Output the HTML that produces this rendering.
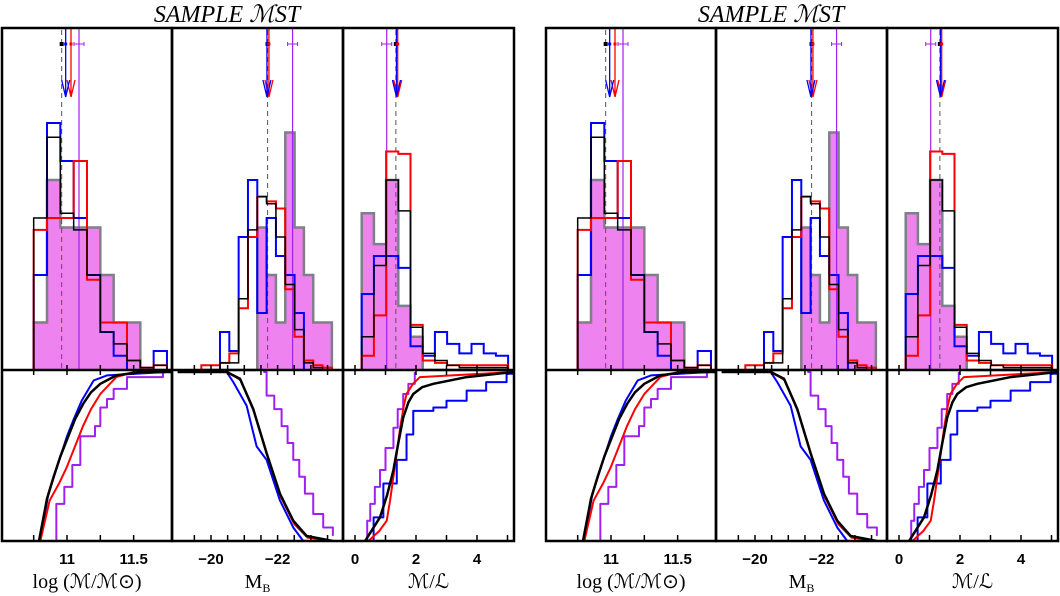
<!DOCTYPE html>
<html><head><meta charset="utf-8"><style>
html,body{margin:0;padding:0;background:#fff;}
svg{display:block;}
text{font-family:"Liberation Sans",sans-serif;}
</style></head><body>
<svg id="fig" width="1060" height="596" viewBox="0 0 1060 596" xmlns="http://www.w3.org/2000/svg"></svg>
<script>
// ---------- data ----------
const massBinStart = 10.75, massBinWidth = 0.1;
const mbBinStart = -19.71, mbBinWidth = -0.28;
const mlBinStart = 0.22, mlBinWidth = 0.4;
const massMagenta = [1,4,3,3,3,2,1,1,0,0];
const massBlue = [2.0,5.2,4.4,3.2,2.0,0.8,0.3,0,0,0.4];
const massRed = [2.95,3.2,3.2,4.4,1.9,1.0,1.0,0.2,0.05,0.1];
const massBlack = [3.2,4.9,3.3,2.95,2.0,0.8,0.55,0.2,0.05,0.1];
const mbMagenta = [0,0,0,0,0,0,3,2,1,5,3,2,1,1];
const mbBlue = [0,0,0.8,0.4,2.8,4.0,1.2,3.2,2.4,2.0,1.2,0,0,0];
const mbRed = [0.1,0.1,0.15,0.35,1.3,2.8,3.65,3.55,3.4,1.7,0.7,0.2,0.1,0.05];
const mbBlack = [0,0,0.15,0.15,1.5,2.95,3.65,3.5,2.8,1.8,0.85,0.15,0.05,0];
const mlMagenta = [3.3,2.65,4.0,1.35,0.7,0,0,0,0,0,0,0];
const mlRed = [0.3,1.15,4.6,4.55,0.95,0.2,0.15,0.1,0.1,0.1,0.1,0.1];
const mlBlack = [0.7,2.2,4.0,3.35,0.9,0.35,0.2,0.1,0.05,0.05,0.05,0.05];
const mlBlue = [1.6,2.4,2.4,2.15,0.5,0.3,0.8,0.55,0.35,0.55,0.35,0.3];
const massMarks = {black:10.96, blue:10.99, red:11.03, purple:11.09};
const mbMarks = {black:-21.7, blue:-21.68, red:-21.74, purple:-22.45};
const mlMarks = {black:1.34, blue:1.36, red:1.40, purple:1.04};
const massCdfBlackX=[10.79,10.85,10.90,10.95,11.01,11.06,11.12,11.18,11.25,11.37,11.55,11.78];
const massCdfBlackF=[0,0.25,0.38,0.5,0.62,0.72,0.81,0.88,0.93,0.98,1.0,1.0];
const massCdfBlueX=[10.80,10.86,10.93,11.0,11.05,11.11,11.20,11.30,11.75];
const massCdfBlueF=[0,0.28,0.45,0.62,0.72,0.83,0.95,0.98,1.0];
const massCdfRedX=[10.80,10.87,10.94,11.0,11.06,11.12,11.18,11.25,11.37,11.5,11.78];
const massCdfRedF=[0,0.24,0.34,0.44,0.56,0.68,0.78,0.87,0.97,1.0,1.0];
const massCdfPurpleX=[10.85,10.92,10.98,11.04,11.10,11.21,11.25,11.30,11.35,11.45,11.72];
const massCdfPurpleF=[0,0.22,0.32,0.45,0.62,0.68,0.79,0.84,0.9,0.97,1.0];
const mbCdfBlackX=[-19.0,-20.47,-20.87,-21.27,-21.67,-22.07,-22.47,-22.87,-23.66];
const mbCdfBlackF=[1,1,0.96,0.78,0.52,0.28,0.12,0.03,0];
const mbCdfRedX=[-19.0,-20.5,-20.9,-21.3,-21.7,-22.1,-22.5,-22.9,-23.6];
const mbCdfRedF=[1,1,0.95,0.76,0.5,0.26,0.1,0.02,0];
const mbCdfBlueX=[-19.0,-20.47,-20.67,-21.07,-21.37,-21.67,-22.07,-22.47,-22.77];
const mbCdfBlueF=[1,1,0.94,0.8,0.56,0.48,0.24,0.08,0];
const mbCdfPurpleX=[-21.57,-21.67,-21.9,-22.12,-22.3,-22.47,-22.65,-22.82,-23.07,-23.37,-23.66];
const mbCdfPurpleF=[1,0.86,0.78,0.68,0.58,0.48,0.38,0.28,0.16,0.08,0.03];
const mlCdfBlackX=[0.33,0.82,1.05,1.26,1.42,1.58,1.75,1.91,2.2,2.57,3.66,5.2];
const mlCdfBlackF=[0,0.14,0.27,0.42,0.58,0.73,0.82,0.87,0.91,0.93,0.97,1.0];
const mlCdfRedX=[0.44,0.8,1.04,1.15,1.26,1.37,1.48,1.6,1.69,1.9,2.13,5.2];
const mlCdfRedF=[0,0.06,0.12,0.24,0.38,0.52,0.67,0.8,0.87,0.93,0.97,1.0];
const mlCdfBlueX=[0.33,0.61,0.93,1.37,1.69,1.91,2.57,3.0,3.66,4.3,4.97,5.2];
const mlCdfBlueF=[0,0.14,0.34,0.48,0.63,0.77,0.79,0.83,0.89,0.94,0.99,1.0];
const mlCdfPurpleX=[0.28,0.4,0.5,0.65,0.82,1.0,1.26,1.4,1.58,1.75,1.96];
const mlCdfPurpleF=[0,0.12,0.22,0.32,0.42,0.55,0.67,0.78,0.87,0.93,1.0];
const massTicks=[10.75,11,11.25,11.5], massLabels=["11","11.5"], massLabelVals=[11,11.5];
const mbTicks=[-19.5,-20,-20.5,-21,-21.5,-22,-22.5,-23,-23.5], mbLabels=["\u221220","\u221222"], mbLabelVals=[-20,-22];
const mlTicks=[0,1,2,3,4,5], mlLabels=["0","2","4"], mlLabelVals=[0,2,4];

// ---------- drawing ----------
const NS="http://www.w3.org/2000/svg";
const svg=document.getElementById('fig');
const TOP=28, MID=370, BOT=541, HU=47.5, CH=169;
const yH=h=>MID-h*HU, yC=f=>BOT-f*CH;
function el(tag,attrs,parent){const e=document.createElementNS(NS,tag);for(const k in attrs)e.setAttribute(k,attrs[k]);parent.appendChild(e);return e;}

const panels=[
 {id:'mass',x0:2,x1:172,sx:v=>67+(v-11)*133.3,bs:massBinStart,bw:massBinWidth,mag:massMagenta,blue:massBlue,red:massRed,black:massBlack,marks:massMarks,
  cdf:[[massCdfPurpleX,massCdfPurpleF,'#a020f0',2,1],[massCdfBlueX,massCdfBlueF,'#0000ff',2,0],[massCdfRedX,massCdfRedF,'#ff0000',2,0],[massCdfBlackX,massCdfBlackF,'#000',2.5,0]],
  ticks:massTicks,labels:massLabels,lv:massLabelVals,title:'log (\u2133/\u2133\u2299)'},
 {id:'mb',x0:172,x1:343,sx:v=>211+(-20-v)*33.3,bs:mbBinStart,bw:mbBinWidth,mag:mbMagenta,blue:mbBlue,red:mbRed,black:mbBlack,marks:mbMarks,
  cdf:[[mbCdfPurpleX,mbCdfPurpleF,'#a020f0',2,1],[mbCdfBlueX,mbCdfBlueF,'#0000ff',2,0],[mbCdfRedX,mbCdfRedF,'#ff0000',2,0],[mbCdfBlackX,mbCdfBlackF,'#000',2.5,0]],
  ticks:mbTicks,labels:mbLabels,lv:mbLabelVals,title:'MB'},
 {id:'ml',x0:343,x1:514,sx:v=>355+v*30.5,bs:mlBinStart,bw:mlBinWidth,mag:mlMagenta,blue:mlBlue,red:mlRed,black:mlBlack,marks:mlMarks,
  cdf:[[mlCdfPurpleX,mlCdfPurpleF,'#a020f0',2,1],[mlCdfBlueX,mlCdfBlueF,'#0000ff',2,1],[mlCdfRedX,mlCdfRedF,'#ff0000',2,0],[mlCdfBlackX,mlCdfBlackF,'#000',2.5,0]],
  ticks:mlTicks,labels:mlLabels,lv:mlLabelVals,title:'\u2133/\u2112'}
];

function histPath(p,vals){
  let d='';
  for(let i=0;i<vals.length;i++){
    const xa=p.sx(p.bs+i*p.bw), xb=p.sx(p.bs+(i+1)*p.bw), y=yH(vals[i]);
    d+=(i===0?'M'+xa+','+MID+'L'+xa+','+y:'L'+xa+','+y)+'L'+xb+','+y;
  }
  const xe=p.sx(p.bs+vals.length*p.bw);
  return d+'L'+xe+','+MID;
}

[0,544].forEach((dx,fi)=>{
  const g=el('g',{transform:'translate('+dx+',0)'},svg);
  
  
  const t=el('text',{x:227,y:22,'text-anchor':'middle','font-size':'24','font-style':'italic',style:'font-family:"Liberation Serif",serif'},g);
  t.textContent='SAMPLE \u2133ST';
  
  
  panels.forEach(p=>{
    const pg=el('g',{},g);
    
    
    const cid='clip'+fi+p.id;
    const cp=el('clipPath',{id:cid},pg);
    el('rect',{x:p.x0,y:TOP,width:p.x1-p.x0,height:BOT-TOP},cp);
    const cg=el('g',{'clip-path':'url(#'+cid+')'},pg);
    const m=el('path',{d:histPath(p,p.mag),fill:'#ee82ee',stroke:'#7f7f8a','stroke-width':2.5},cg);
    
    
    const px=p.sx(p.marks.purple);
    el('line',{x1:px,y1:TOP,x2:px,y2:MID,stroke:'#a020f0','stroke-width':1.2},cg);
    const bx=p.sx(p.marks.black);
    el('line',{x1:bx,y1:TOP+2,x2:bx,y2:MID,stroke:'#555','stroke-width':1,'stroke-dasharray':'5,4'},cg);
    [['blue','#0000ff'],['red','#ff0000'],['black','#000']].forEach(([k,c])=>{
      const h=el('path',{d:histPath(p,p[k]),fill:'none',stroke:c,'stroke-width':k==='black'?1.5:2},cg);
      
      
    });
    [['red','#ff0000'],['blue','#0000ff']].forEach(([k,c])=>{
      const x=p.sx(p.marks[k]);
      const a=el('path',{d:'M'+x+','+TOP+'L'+x+',97M'+(x-4)+',80L'+x+',97L'+(x+4)+',80',fill:'none',stroke:c,'stroke-width':1.3},cg);
      
      
    });
    el('rect',{x:bx-2,y:42,width:4,height:4,fill:'#000'},cg);
    el('rect',{x:p.sx(p.marks.blue)-1.5,y:42.5,width:3,height:3,fill:'#0000ff'},cg);
    el('rect',{x:p.sx(p.marks.red)-1.5,y:42.5,width:3,height:3,fill:'#ff0000'},cg);
    el('path',{d:'M'+(px-5)+',44L'+(px+5)+',44M'+(px-5)+',42L'+(px-5)+',46M'+(px+5)+',42L'+(px+5)+',46',stroke:'#a020f0','stroke-width':1,fill:'none'},cg);
    p.cdf.forEach(([xs,fs,c,w,step])=>{
      let d='';
      for(let i=0;i<xs.length;i++){
        const x=p.sx(xs[i]),y=yC(fs[i]);
        if(i===0)d='M'+x+','+y;
        else if(!step)d+='L'+x+','+y;
        else{const yp=yC(fs[i-1]);d+='L'+x+','+yp+'L'+x+','+y;}
      }
      const l=el('path',{d:d,fill:'none',stroke:c,'stroke-width':w,'stroke-linejoin':'round'},cg);
      
      
    });
    el('rect',{x:p.x0,y:TOP,width:p.x1-p.x0,height:BOT-TOP,fill:'none',stroke:'#000','stroke-width':2.5},pg);
    el('line',{x1:p.x0,y1:MID,x2:p.x1,y2:MID,stroke:'#000','stroke-width':2.5},pg);
    p.ticks.forEach(v=>{
      const x=p.sx(v);
      el('line',{x1:x,y1:MID-5,x2:x,y2:MID+5,stroke:'#000','stroke-width':1.5},pg);
      el('line',{x1:x,y1:BOT,x2:x,y2:BOT-6,stroke:'#000','stroke-width':1.5},pg);
    });
    p.labels.forEach((s,i)=>{
      const tl=el('text',{x:p.sx(p.lv[i]),y:564,'text-anchor':'middle','font-size':'15','font-weight':'bold'},pg);
      tl.textContent=s;
      
      
    });
    const at=el('text',{x:(p.x0+p.x1)/2,y:588,'text-anchor':'middle','font-size':'20',style:'font-family:"Liberation Serif",serif'},pg);
    if(p.id==='mb'){at.innerHTML='M<tspan font-size="12" dy="4">B</tspan>';}
    else at.textContent=p.title;
    
    
  });
});
</script>
</body></html>
